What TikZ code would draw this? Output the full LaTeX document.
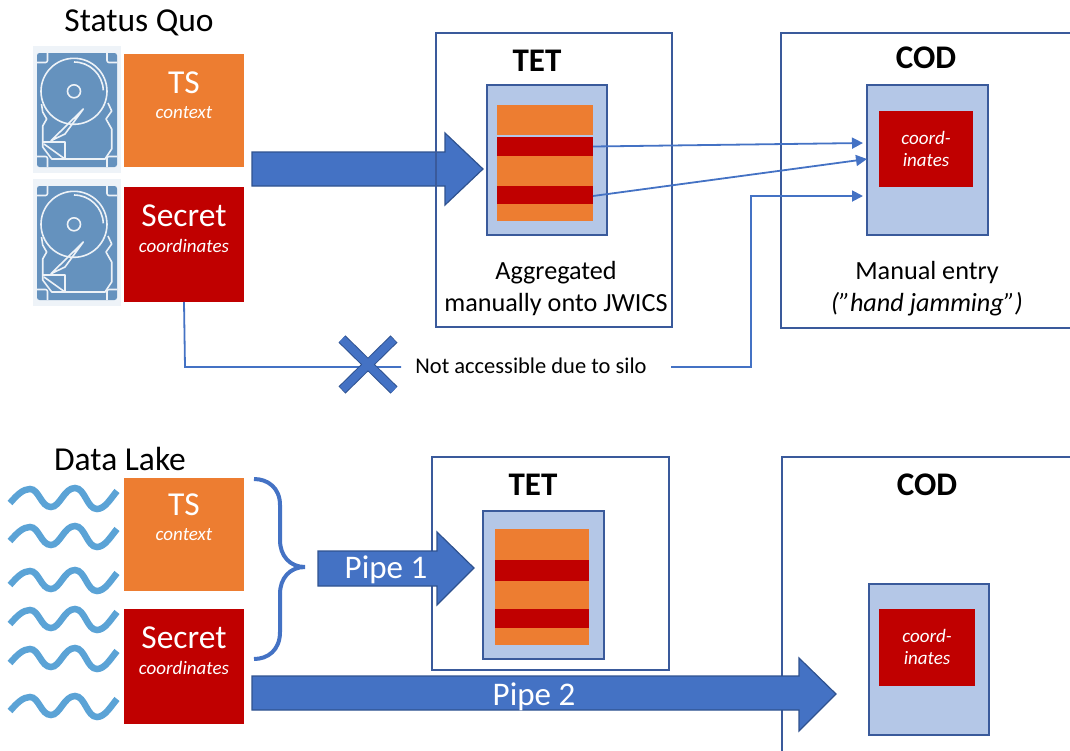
\documentclass[tikz,border=0pt]{standalone}
\usepackage{fontspec}
\setmainfont{Carlito}
\usetikzlibrary{arrows.meta}
\definecolor{orangeb}{HTML}{ED7D31}
\definecolor{redb}{HTML}{C00000}
\definecolor{blueb}{HTML}{4472C4}
\definecolor{bluee}{HTML}{2F528F}
\definecolor{paleb}{HTML}{B4C7E7}
\definecolor{framec}{HTML}{3A5A9B}
\definecolor{hddb}{HTML}{6592BE}
\definecolor{hddbg}{HTML}{EEF3F8}
\definecolor{wavec}{HTML}{5BA3D6}
\tikzset{
  x=1pt,y=-1pt,
  every node/.style={inner sep=0pt,outer sep=0pt},
  fillbox/.style={anchor=north west,draw=none},
  orangebox/.style={fillbox,fill=orangeb},
  redbox/.style={fillbox,fill=redb},
  framebox/.style={fillbox,draw=framec,line width=1.8pt},
  panel/.style={fillbox,fill=paleb,draw=framec,line width=1.8pt},
  bigarrow/.style={fill=blueb,draw=bluee,line width=1.2pt},
  thin conn/.style={draw=blueb,line width=1.8pt},
  conn arrow/.style={thin conn,-{Triangle[length=11pt,width=11pt]}},
  heading/.style={font=\fontsize{33.5}{36}\selectfont,text=black},
  boxtitle/.style={font=\bfseries\fontsize{33}{36}\selectfont,text=black},
  body/.style={font=\fontsize{26.2}{32}\selectfont,text=black,align=center},
  whitebig/.style={font=\fontsize{33.5}{36}\selectfont,text=white},
  whitesmall/.style={font=\itshape\fontsize{19}{22}\selectfont,text=white,align=center},
  pipe/.style={font=\fontsize{33}{36}\selectfont,text=white},
  wave/.pic={\draw[wavec,line width=6.5pt] (0,0) .. controls (7,-8) and (13,-14) .. (20,-14)
     .. controls (29,-14) and (31,4) .. (41,4)
     .. controls (50,4) and (54,-15) .. (65,-15)
     .. controls (75,-15) and (77,6) .. (87,6)
     .. controls (95,6) and (101,-5) .. (107,-12);},
  hdd/.pic={
    \fill[hddbg] (0,0) rectangle (88,127);
    \fill[hddb,rounded corners=2.5pt] (4,7) rectangle (84,121);
    \begin{scope}[white!88!hddb,line width=1.6pt,line join=round]
      \draw (41,45.3) circle[radius=33];
      \draw (41,45.3) circle[radius=6.5];
      \draw (41,16) arc[start angle=-90,end angle=-2,radius=29.3];
      % corner pads
      \draw[rounded corners=2pt] (14.5,7) -- (14.5,16.5) -- (4,16.5);
      \draw[rounded corners=2pt] (74,7) -- (74,16.5) -- (84,16.5);
      \draw[rounded corners=2pt] (4,110.5) -- (14.5,110.5) -- (14.5,121);
      \draw[rounded corners=2pt] (84,110.5) -- (74,110.5) -- (74,121);
      % outline of the case
      \draw (8.5,58) -- (9.7,66) -- (13.7,73) -- (9.7,80) -- (9.7,101) -- (18.7,113) -- (72,113) -- (78.7,103) -- (78.7,83) -- (73,73) -- (78.7,65) -- (75,57);
      % arm
      \draw (50.3,63) -- (18,94.7) -- (32,88) -- cycle;
      \draw (10.3,96) -- (32,96) -- (32,113);
      \draw (11,98) -- (32,113);
    \end{scope}
  },
}
\begin{document}
\begin{tikzpicture}
\useasboundingbox (0,0) rectangle (1070,750);

% ---------- Status Quo
\node[heading] (sqtitle) at (139,23) {Status Quo};
\pic at (33,46) {hdd};
\pic at (33,179) {hdd};
\node[orangebox,minimum width=120pt,minimum height=113pt] (ts1) at (124,54) {};
\node[redbox,minimum width=120pt,minimum height=115pt] (sec1) at (124,187) {};
\node[whitebig] (ts1t) at (184,83) {TS};
\node[whitesmall] (ts1c) at (184,113) {context};
\node[whitebig] (sec1t) at (184,216) {Secret};
\node[whitesmall] (sec1c) at (184,246) {coordinates};

\draw[bigarrow] (252,152) -- (445,152) -- (445,133) -- (483,169) -- (445,205) -- (445,186) -- (252,186) -- cycle;

\node[framebox,minimum width=236pt,minimum height=294pt] (tet1) at (436,33) {};
\node[boxtitle] (tet1t) at (537,61) {TET};
\node[panel,minimum width=120pt,minimum height=150pt] (tet1p) at (487,85) {};
\node[orangebox,minimum width=96pt,minimum height=30pt] (t1a) at (497,105) {};
\node[redbox,minimum width=96pt,minimum height=19pt] (t1b) at (497,137) {};
\node[orangebox,minimum width=96pt,minimum height=30pt] (t1c) at (497,156) {};
\node[redbox,minimum width=96pt,minimum height=18pt] (t1d) at (497,186) {};
\node[orangebox,minimum width=96pt,minimum height=17pt] (t1e) at (497,204) {};
\node[body] (tet1l) at (556,289) {Aggregated\\manually onto JWICS};

\node[framebox,minimum width=300pt,minimum height=295pt] (cod1) at (781,33) {};
\node[boxtitle] (cod1t) at (926,58) {COD};
\node[panel,minimum width=121pt,minimum height=150pt] (cod1p) at (867,85) {};
\node[redbox,minimum width=94pt,minimum height=76pt] (cod1r) at (879,111) {};
\node[whitesmall] (cod1rt) at (926,149) {coord-\\inates};
\node[body] (cod1l) at (927,289) {Manual entry\\\textit{(”hand jamming”)}};

\coordinate (c1in) at (863,143);
\coordinate (c2in) at (867,159);
\coordinate (c3in) at (863,196);
\draw[conn arrow] (t1b.east) -- (c1in);
\draw[conn arrow] (t1d.east) ++(0,1) -- (c2in);

\node[font=\fontsize{22.5}{24}\selectfont,text=black] (silo) at (531,366) {Not accessible due to silo};
\coordinate (el1) at (185,367);
\coordinate (x1) at (401,367);
\coordinate (el2) at (751,367);
\coordinate (el3) at (751,196);
\coordinate (silol) at (671,367);
\draw[thin conn] (sec1.south) -- (el1) -- (x1);
\draw[conn arrow] (silol) -- (el2) -- (el3) -- (c3in);
\coordinate (xa) at (342,339);
\coordinate (xb) at (394,390);
\coordinate (xc) at (394,339);
\coordinate (xd) at (342,390);
\draw[bluee,line width=10pt] (xa) -- (xb) (xc) -- (xd);
\draw[blueb,line width=8pt,shorten <=0.7pt,shorten >=0.7pt] (xa) -- (xb) (xc) -- (xd);

% ---------- Data Lake
\node[heading] (dltitle) at (120,458.5) {Data Lake};
\foreach \yy in {503,541,585,624,663,711} \pic at (10,\yy) {wave};
\node[orangebox,minimum width=120pt,minimum height=113pt] (ts2) at (124,478) {};
\node[redbox,minimum width=120pt,minimum height=115pt] (sec2) at (124,609) {};
\node[whitebig] (ts2t) at (184,505) {TS};
\node[whitesmall] (ts2c) at (184,535) {context};
\node[whitebig] (sec2t) at (184,638) {Secret};
\node[whitesmall] (sec2c) at (184,668) {coordinates};

\coordinate (bt) at (254,479);
\coordinate (bb) at (254,659);
\coordinate (btip) at (305,567);
\draw[blueb,line width=4pt] (bt) .. controls (268,479) and (280,488) .. (280,505)
  -- (280,540) .. controls (280,556) and (290,567) .. (btip)
  .. controls (290,567) and (280,578) .. (280,594)
  -- (280,632) .. controls (280,650) and (268,659) .. (bb);

\node[framebox,minimum width=237pt,minimum height=213pt] (tet2) at (432,457) {};
\draw[bigarrow] (318,551) -- (437,551) -- (437,532) -- (474,568) -- (437,605) -- (437,586) -- (318,586) -- cycle;
\node[pipe] (p1) at (386,570) {Pipe 1};
\node[boxtitle] (tet2t) at (533,485) {TET};
\node[panel,minimum width=121pt,minimum height=148pt] (tet2p) at (483,511) {};
\node[orangebox,minimum width=94pt,minimum height=31pt] (t2a) at (495,529) {};
\node[redbox,minimum width=94pt,minimum height=21pt] (t2b) at (495,560) {};
\node[orangebox,minimum width=94pt,minimum height=28pt] (t2c) at (495,581) {};
\node[redbox,minimum width=94pt,minimum height=19pt] (t2d) at (495,609) {};
\node[orangebox,minimum width=94pt,minimum height=17pt] (t2e) at (495,628) {};

\node[framebox,minimum width=300pt,minimum height=310pt] (cod2) at (782,457) {};
\node[boxtitle] (cod2t) at (927,485) {COD};
\node[panel,minimum width=120pt,minimum height=151pt] (cod2p) at (869,584) {};
\node[redbox,minimum width=96pt,minimum height=77pt] (cod2r) at (879,609) {};
\node[whitesmall] (cod2rt) at (927,647) {coord-\\inates};

\draw[bigarrow] (252,676) -- (799,676) -- (799,658) -- (836,694) -- (799,731) -- (799,710) -- (252,710) -- cycle;
\node[pipe] (p2) at (534,697) {Pipe 2};
\end{tikzpicture}
\end{document}
